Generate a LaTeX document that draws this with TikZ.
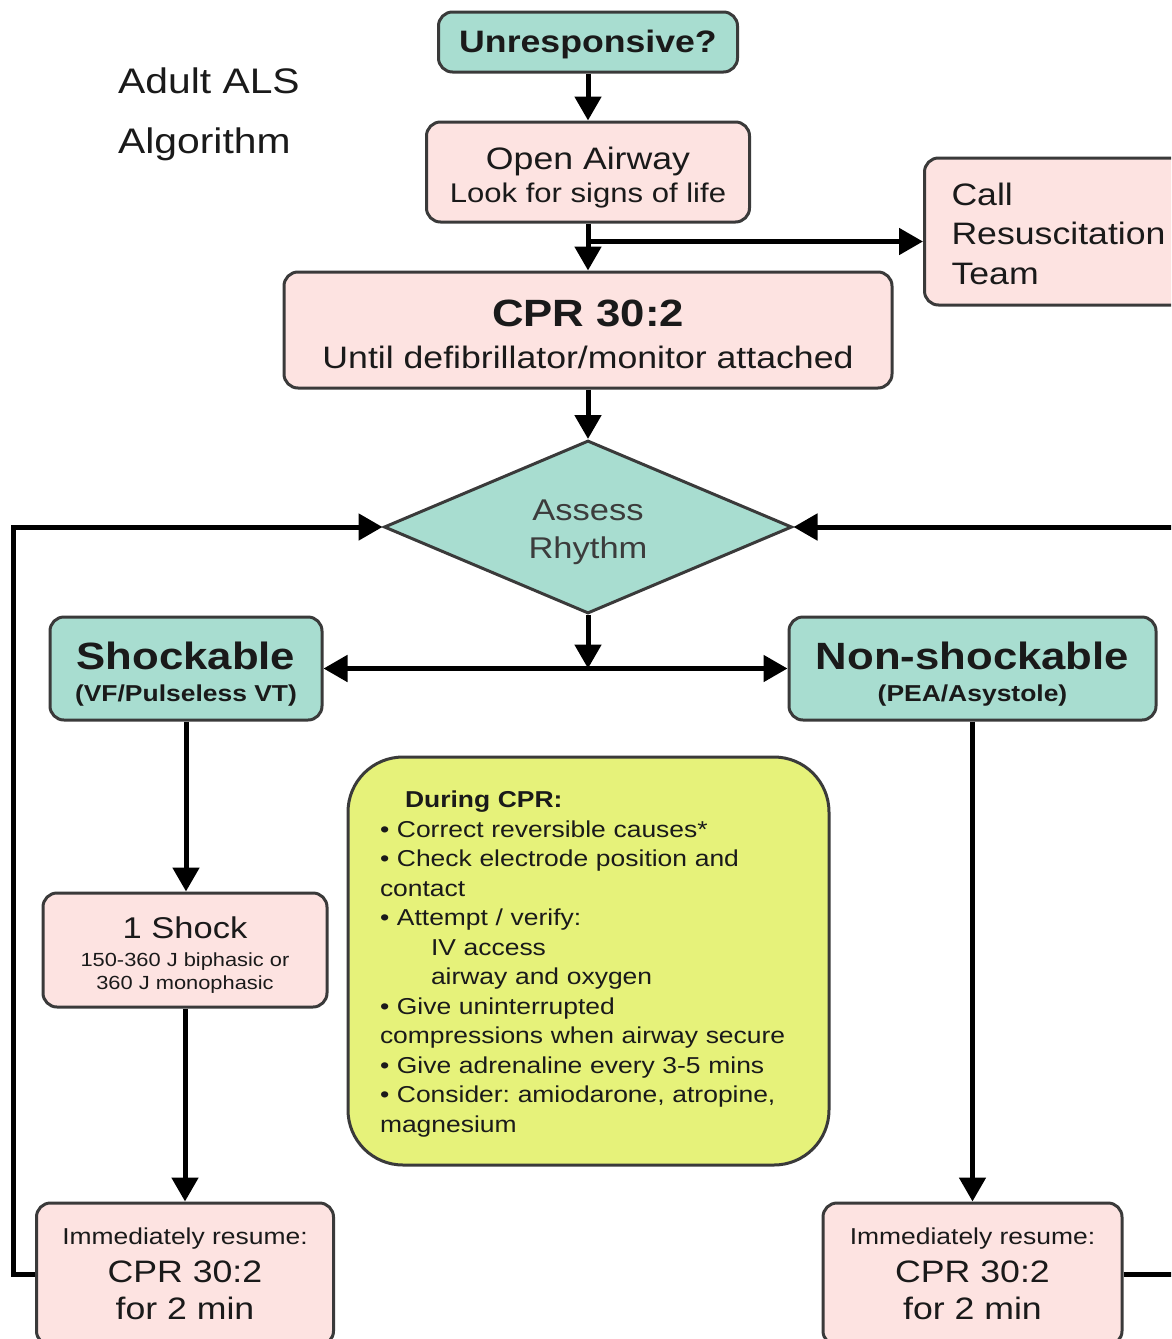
\documentclass[tikz,border=0pt]{standalone}
\usepackage{fontspec}
\setmainfont{Liberation Sans}[FakeStretch=1.15]
\usetikzlibrary{arrows.meta,shapes.geometric}
\definecolor{teal1}{HTML}{A8DDD0}
\definecolor{pink1}{HTML}{FDE3E1}
\definecolor{yel1}{HTML}{E6F27A}
\definecolor{edge1}{HTML}{3A3A3A}
\definecolor{ink}{HTML}{1A1A1A}
\newcommand\lifttop[1]{\rule{0pt}{#1}}
\frenchspacing
\begin{document}
\begin{tikzpicture}[x=1pt,y=-1pt,
  box/.style={draw=edge1,line width=3pt,rounded corners=14pt,inner sep=0pt,align=center,text=ink},
  tealbox/.style={box,fill=teal1},
  pinkbox/.style={box,fill=pink1},
  arr/.style={line width=5pt,-{Triangle[length=24pt,width=26pt]}}
]
\useasboundingbox (0,0) rectangle (1171,1339);
\clip (0,0) rectangle (1171,1339);

\node[anchor=north west,inner sep=0pt,align=left,text=ink,font=\fontsize{35.5}{60}\selectfont] (title) at (118,68) {Adult ALS\\Algorithm};

\node[tealbox,minimum width=299pt,minimum height=60pt,font=\bfseries\fontsize{31}{36}\selectfont] (unresp) at (588,42) {\lifttop{26.6pt}Unresponsive?};

\node[pinkbox,minimum width=323pt,minimum height=100pt,font=\fontsize{27}{33}\selectfont] (airway) at (588,172) {{\fontsize{31}{33}\selectfont\lifttop{32.6pt}Open Airway}\\Look for signs of life};

\node[pinkbox,anchor=west,minimum width=270pt,minimum height=147pt,text width=220pt,align=left,inner xsep=27pt,font=\fontsize{31}{39.5}\selectfont] (call) at (923,231.5) {\lifttop{26.6pt}Call\\Resuscitation\\Team};

\node[pinkbox,minimum width=608pt,minimum height=116pt,font=\fontsize{31}{42}\selectfont] (cpr) at (588,330) {{\bfseries\fontsize{38}{42}\selectfont\lifttop{35.7pt}CPR 30:2}\\Until defibrillator/monitor attached};

\node[diamond,draw=edge1,line width=3pt,fill=teal1,inner sep=0pt,shape aspect=2.36,minimum width=408pt,minimum height=173pt,align=center,text=ink!85,font=\fontsize{30}{38}\selectfont] (assess) at (588,527) {\lifttop{31.9pt}Assess\\Rhythm};

\node[tealbox,minimum width=272pt,minimum height=103pt,font=\bfseries\fontsize{23}{32}\selectfont] (shock) at (186,668.5) {{\fontsize{38}{32}\selectfont\lifttop{39.7pt}Shockable}\\(VF/Pulseless VT)};

\node[tealbox,minimum width=367pt,minimum height=103pt,font=\bfseries\fontsize{23}{32}\selectfont] (nonshock) at (972.5,668.5) {{\fontsize{38}{32}\selectfont\lifttop{39.7pt}Non-shockable}\\(PEA/Asystole)};

\node[draw=edge1,line width=3pt,fill=yel1,rounded corners=55pt,minimum width=481pt,minimum height=408pt,text width=417pt,align=left,inner xsep=32pt,inner ysep=0pt,text=ink,font=\fontsize{23}{29.5}\selectfont\frenchspacing] (during) at (588.5,961) {%
\lifttop{22.8pt}\hspace*{25pt}\textbf{During CPR:}\\
• Correct reversible causes*\\
• Check electrode position and\\
contact\\
• Attempt / verify:\\
\hspace*{51pt}IV access\\
\hspace*{51pt}airway and oxygen\\
• Give uninterrupted\\
compressions when airway secure\\
• Give adrenaline every 3-5 mins\\
• Consider: amiodarone, atropine,\\
magnesium};

\node[pinkbox,minimum width=284pt,minimum height=114pt,font=\fontsize{19}{23}\selectfont] (shock1) at (185,950) {{\fontsize{30}{23}\selectfont\lifttop{31.9pt}1 Shock}\\[5pt]150-360 J biphasic or\\360 J monophasic};

\node[pinkbox,minimum width=297pt,minimum height=142pt,font=\fontsize{31}{37.5}\selectfont] (resumeL) at (185,1274) {{\fontsize{23}{37.5}\selectfont Immediately resume:}\\CPR 30:2\\for 2 min};

\node[pinkbox,minimum width=299pt,minimum height=142pt,font=\fontsize{31}{37.5}\selectfont] (resumeR) at (972.5,1274) {{\fontsize{23}{37.5}\selectfont Immediately resume:}\\CPR 30:2\\for 2 min};

\draw[arr] (unresp) -- (airway);
\draw[arr] (airway) -- (cpr);
\coordinate (br) at ([yshift=-18pt]airway.south);
\draw[arr] (br) -- (br -| call.west);
\draw[arr] (cpr) -- (assess);
\coordinate (junc) at (assess.south |- shock.east);
\draw[arr] (assess.south) -- (junc);
\draw[arr] (junc) -- (shock.east);
\draw[arr] (junc) -- (nonshock.west);
\draw[arr] (shock.south) -- (shock.south |- shock1.north);
\draw[arr] (shock1.south) -- (shock1.south |- resumeL.north);
\draw[arr] (nonshock.south) -- (nonshock.south |- resumeR.north);
\draw[arr] (resumeL.west) -- ++(-22,0) |- (assess.west);
\draw[arr] (resumeR.east) -- ++(70,0) |- (assess.east);
\end{tikzpicture}
\end{document}
